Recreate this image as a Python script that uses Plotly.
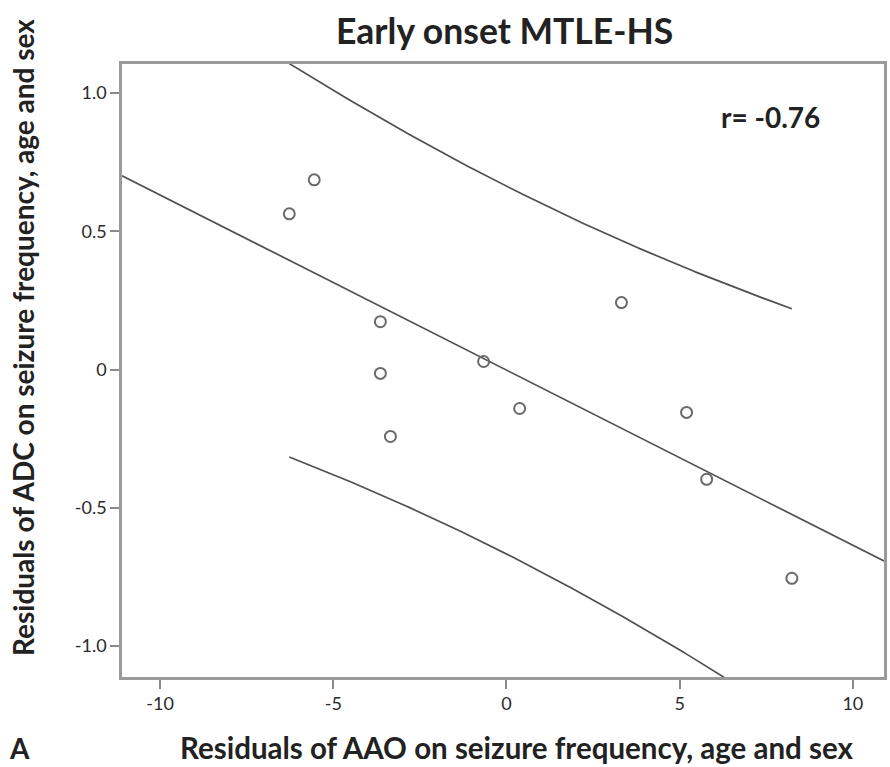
import numpy as np
import plotly.graph_objects as go

# Data
aao_resid = [-6.27, -5.55, -3.64, -3.64, -3.35, -0.66, 0.38, 3.32, 5.20, 5.78, 8.24]
adc_resid = [0.563, 0.686, 0.173, -0.014, -0.242, 0.029, -0.141, 0.242, -0.155, -0.397, -0.755]
x_ticks = [-10, -5, 0, 5, 10]
x_ticklabels = ["-10", "-5", "0", "5", "10"]
y_ticks = [1.0, 0.5, 0, -0.5, -1.0]
y_ticklabels = ["1.0", "0.5", "0", "-0.5", "-1.0"]
title_text = "Early onset MTLE-HS"
x_title = "Residuals of AAO on seizure frequency, age and sex"
y_title = "Residuals of ADC on seizure frequency, age and sex"
r_label = "r= -0.76"
panel_label = "A"

# OLS fit and 95% prediction interval computed from the data
x = np.array(aao_resid)
y = np.array(adc_resid)
n = len(x)
b, a = np.polyfit(x, y, 1)
res = y - (a + b * x)
s = np.sqrt(np.sum(res ** 2) / (n - 2))
t975 = 2.262157  # t(0.975, df=9)
sxx = np.sum((x - x.mean()) ** 2)

x_range = [-11.1, 10.9]
y_range = [-1.112, 1.105]
xr = np.array(x_range)
xg = np.linspace(x.min(), x.max(), 200)
yhat = a + b * xg
half = t975 * s * np.sqrt(1 + 1 / n + (xg - x.mean()) ** 2 / sxx)

line_col = "#505050"
fig = go.Figure()
fig.add_trace(go.Scatter(x=xr, y=a + b * xr, mode="lines",
                         line=dict(color=line_col, width=1.7), hoverinfo="skip"))
fig.add_trace(go.Scatter(x=xg, y=yhat + half, mode="lines",
                         line=dict(color=line_col, width=1.7), hoverinfo="skip"))
fig.add_trace(go.Scatter(x=xg, y=yhat - half, mode="lines",
                         line=dict(color=line_col, width=1.7), hoverinfo="skip"))
fig.add_trace(go.Scatter(x=aao_resid, y=adc_resid, mode="markers",
                         marker=dict(symbol="circle-open", size=11, color="#6a6a6a",
                                     line=dict(width=2)), cliponaxis=False))

font_fam = "Lato, 'Open Sans', sans-serif"
txt_col = "#222222"
axis_common = dict(showline=True, linecolor="#9a9a9a", linewidth=2.5, mirror=True,
                   ticks="outside", ticklen=9, tickwidth=2, tickcolor="#8a8a8a",
                   showgrid=False, zeroline=False, automargin=False,
                   tickfont=dict(family=font_fam, size=18, color="#2a2a2a"))

# plot area in pixels: left 122, right 884, top 64, bottom 677
L, R, T, B = 122, 884, 64, 677
W, H = 890, 767
def px(xp):
    return (xp - L) / (R - L)
def py(yp):
    return (B - yp) / (B - T)

fig.update_layout(
    width=W, height=H,
    margin=dict(l=L, r=W - R, t=T, b=H - B),
    paper_bgcolor="white", plot_bgcolor="white",
    showlegend=False,
    xaxis=dict(range=x_range, tickvals=x_ticks, ticktext=x_ticklabels, **axis_common),
    yaxis=dict(range=y_range, tickvals=y_ticks, ticktext=y_ticklabels, **axis_common),
    annotations=[
        dict(text="<b>" + title_text + "</b>", x=px(505), y=py(31),
             xref="paper", yref="paper", xanchor="center", yanchor="middle",
             showarrow=False, font=dict(family=font_fam, size=35.5, color=txt_col)),
        dict(text="<b>" + x_title + "</b>", x=px(516), y=py(747),
             xref="paper", yref="paper", xanchor="center", yanchor="middle",
             showarrow=False, font=dict(family=font_fam, size=29.5, color=txt_col)),
        dict(text="<b>" + y_title + "</b>", x=px(23), y=py(338), textangle=-90,
             xref="paper", yref="paper", xanchor="center", yanchor="middle",
             showarrow=False, font=dict(family=font_fam, size=28, color=txt_col)),
        dict(text="<b>" + r_label + "</b>", x=px(770), y=py(117),
             xref="paper", yref="paper", xanchor="center", yanchor="middle",
             showarrow=False, font=dict(family=font_fam, size=28, color=txt_col)),
        dict(text="<b>" + panel_label + "</b>", x=px(8), y=py(766),
             xref="paper", yref="paper", xanchor="left", yanchor="bottom",
             showarrow=False, borderpad=0,
             font=dict(family=font_fam, size=28, color=txt_col)),
    ],
)
fig.write_html("out.html", config={"displayModeBar": False},
               post_script="document.body.style.margin='0';document.body.style.padding='0';")
